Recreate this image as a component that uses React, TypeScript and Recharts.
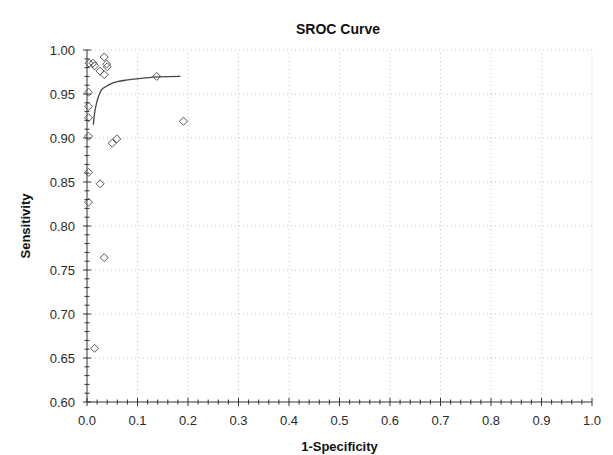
import { ComposedChart, Line, Scatter, XAxis, YAxis, ReferenceLine } from 'recharts'

// study points (1-specificity, sensitivity)
const studyFpr = [0.004, 0.012, 0.015, 0.034, 0.039, 0.040, 0.026, 0.034, 0.138, 0.191, 0.050, 0.059, 0.003, 0.003, 0.003, 0.003, 0.003, 0.026, 0.003, 0.034, 0.015]
const studySens = [0.985, 0.985, 0.982, 0.992, 0.984, 0.981, 0.976, 0.972, 0.970, 0.919, 0.894, 0.899, 0.952, 0.936, 0.923, 0.902, 0.861, 0.848, 0.827, 0.764, 0.661]

// fitted SROC curve
const curveFpr = [0.0125, 0.015, 0.019, 0.024, 0.029, 0.036, 0.045, 0.06, 0.08, 0.11, 0.14, 0.185]
const curveSens = [0.915, 0.928, 0.94, 0.949, 0.955, 0.958, 0.961, 0.964, 0.966, 0.968, 0.9695, 0.97]

const xMajor = [0, 0.1, 0.2, 0.3, 0.4, 0.5, 0.6, 0.7, 0.8, 0.9, 1.0]
const xLabels = ['0.0', '0.1', '0.2', '0.3', '0.4', '0.5', '0.6', '0.7', '0.8', '0.9', '1.0']
const yMajor = [0.6, 0.65, 0.7, 0.75, 0.8, 0.85, 0.9, 0.95, 1.0]
const yLabels = ['0.60', '0.65', '0.70', '0.75', '0.80', '0.85', '0.90', '0.95', '1.00']

const points = studyFpr.map((x, i) => ({ x, y: studySens[i] }))
const curve = curveFpr.map((x, i) => ({ x, y: curveSens[i] }))

// minor ticks: 4 between each pair of majors
const withMinors = (major: number[]) => {
  const out: number[] = []
  for (let i = 0; i < major.length - 1; i++) {
    const step = (major[i + 1] - major[i]) / 5
    for (let k = 0; k < 5; k++) out.push(+(major[i] + step * k).toFixed(4))
  }
  out.push(major[major.length - 1])
  return out
}
const xTicks = withMinors(xMajor)
const yTicks = withMinors(yMajor)

const FONT = '"Liberation Sans", Arial, sans-serif'
const AXIS = '#333'
const TEXT = '#2a2a2a'

const labelFor = (v: number, major: number[], labels: string[]) => {
  const i = major.findIndex((m) => Math.abs(m - v) < 1e-6)
  return i >= 0 ? labels[i] : null
}

const XTick = (props: any) => {
  const { x, y, payload } = props
  const label = labelFor(payload.value, xMajor, xLabels)
  const len = label ? 4 : 2.5
  return (
    <g>
      <line x1={x} x2={x} y1={y - len} y2={y + len} stroke={AXIS} strokeWidth={1} />
      {label && (
        <text x={x} y={y + 23} textAnchor="middle" fontSize={13} fill={TEXT} fontFamily={FONT}>
          {label}
        </text>
      )}
    </g>
  )
}

const YTick = (props: any) => {
  const { x, y, payload } = props
  const label = labelFor(payload.value, yMajor, yLabels)
  const len = label ? 4 : 2.5
  return (
    <g>
      <line x1={x - len} x2={x + len} y1={y} y2={y} stroke={AXIS} strokeWidth={1} />
      {label && (
        <text x={x - 12} y={y + 5} textAnchor="end" fontSize={13} fill={TEXT} fontFamily={FONT}>
          {label}
        </text>
      )}
    </g>
  )
}

const Diamond = (props: any) => {
  const { cx, cy } = props
  const r = 4
  return (
    <polygon
      points={`${cx},${cy - r} ${cx + r},${cy} ${cx},${cy + r} ${cx - r},${cy}`}
      fill="none"
      stroke="#555"
      strokeWidth={1}
    />
  )
}

export default function App() {
  return (
    <div style={{ position: 'absolute', left: 0, top: 0, width: 613, height: 455, background: '#fff', fontFamily: FONT }}>
      <div
        style={{
          position: 'absolute',
          top: 21,
          left: 0,
          width: 676,
          textAlign: 'center',
          fontSize: 14,
          fontWeight: 'bold',
          color: '#111',
        }}
      >
        SROC Curve
      </div>
      <ComposedChart width={613} height={455} margin={{ top: 50, right: 21, bottom: 0, left: 0 }}>
        {xMajor.slice(1).map((v) => (
          <ReferenceLine key={'vx' + v} x={v} stroke="#c4c4c4" strokeDasharray="1 3" />
        ))}
        {yMajor.slice(1).map((v) => (
          <ReferenceLine key={'hy' + v} y={v} stroke="#c4c4c4" strokeDasharray="1 3" />
        ))}
        <XAxis
          type="number"
          dataKey="x"
          domain={[0, 1]}
          ticks={xTicks}
          interval={0}
          height={53}
          tickSize={0}
          tickMargin={0}
          tickLine={false}
          tick={<XTick />}
          axisLine={{ stroke: AXIS }}
          label={{ value: '1-Specificity', position: 'insideBottom', offset: 4, fontSize: 13, fontWeight: 'bold', fill: '#111', fontFamily: FONT }}
        />
        <YAxis
          type="number"
          dataKey="y"
          domain={[0.6, 1]}
          ticks={yTicks}
          interval={0}
          width={87}
          tickSize={0}
          tickMargin={0}
          tickLine={false}
          tick={<YTick />}
          axisLine={{ stroke: AXIS }}
          label={{ value: 'Sensitivity', angle: -90, position: 'insideLeft', offset: 25, fontSize: 13, fontWeight: 'bold', fill: '#111', fontFamily: FONT, style: { textAnchor: 'middle' } }}
        />
        <Line
          data={curve}
          dataKey="y"
          type="monotone"
          stroke="#444"
          strokeWidth={1.3}
          dot={false}
          activeDot={false}
          isAnimationActive={false}
        />
        <Scatter data={points} dataKey="y" shape={<Diamond />} isAnimationActive={false} />
      </ComposedChart>
    </div>
  )
}
